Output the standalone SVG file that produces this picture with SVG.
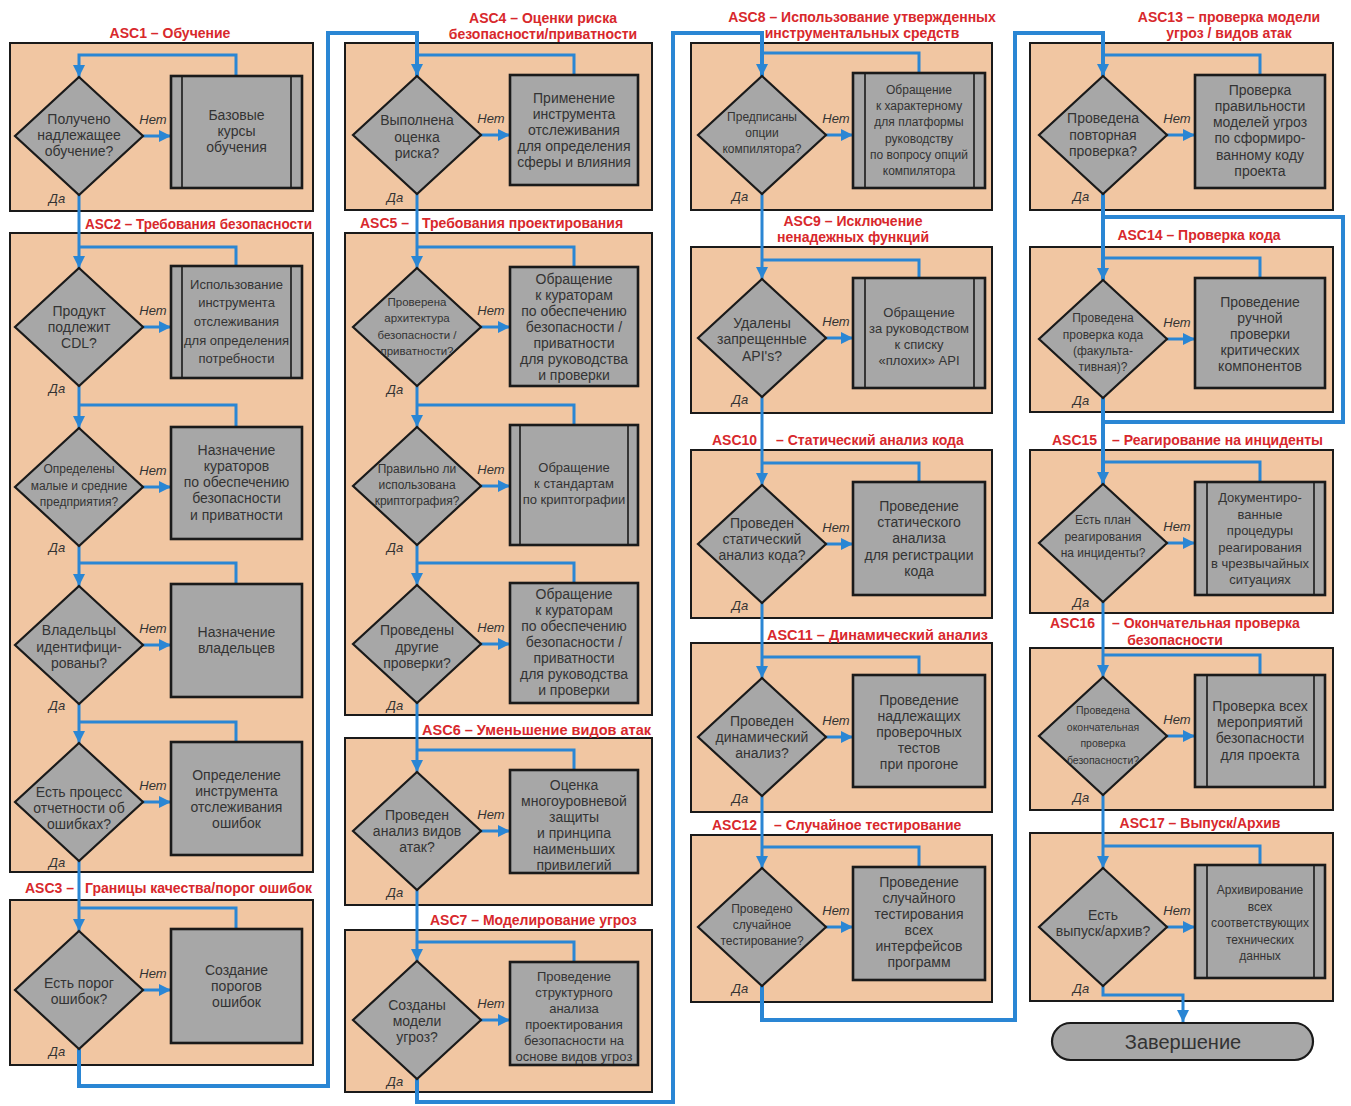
<svg xmlns="http://www.w3.org/2000/svg" width="1351" height="1106" viewBox="0 0 1351 1106">
<defs>
<style>
.bg{fill:#ffffff}
.panel{fill:#f1c6a2;stroke:#1a1a1a;stroke-width:2}
.dia{fill:#a7a7a7;stroke:#1a1a1a;stroke-width:2.2}
.box{fill:#a7a7a7;stroke:#1a1a1a;stroke-width:2.6}
.pl{stroke:#1a1a1a;stroke-width:1.6}
.t{font-family:"Liberation Sans",Arial,sans-serif;font-size:14px;fill:#333;text-anchor:middle}
.s13{font-size:13px}
.s12{font-size:12px}
.s11{font-size:11.5px}
.s10{font-size:10.5px}
.ttl{font-family:"Liberation Sans",Arial,sans-serif;font-weight:bold;font-size:14px;fill:#d8282c}
.yn{font-family:"Liberation Sans",Arial,sans-serif;font-style:italic;font-size:13px;fill:#333;text-anchor:middle}
.c{fill:none;stroke:#2a86d4;stroke-width:3}
.ct{fill:none;stroke:#2a86d4;stroke-width:4}
.term{fill:#a7a7a7;stroke:#1a1a1a;stroke-width:2.2}
</style>
<marker id="ar" markerUnits="userSpaceOnUse" markerWidth="14" markerHeight="14" refX="12" refY="6" orient="auto">
<path d="M0,0 L12,6 L0,12 z" fill="#2a86d4"/>
</marker>
</defs>
<rect class="bg" x="0" y="0" width="1351" height="1106"/>

<!-- panels -->
<g id="panels">
<g id="asc1"><rect class="panel" x="10" y="43" width="303" height="168"/><text class="ttl" x="170" y="38" text-anchor="middle">ASC1 – Обучение</text></g>
<g id="asc2"><rect class="panel" x="10" y="233" width="303" height="639"/><text class="ttl" x="85" y="229" textLength="227" lengthAdjust="spacingAndGlyphs">ASC2 – Требования безопасности</text></g>
<g id="asc3"><rect class="panel" x="10" y="900" width="303" height="165"/><text class="ttl" x="25" y="893">ASC3 –</text><text class="ttl" x="85" y="893">Границы качества/порог ошибок</text></g>
<g id="asc4"><rect class="panel" x="345" y="43" width="307" height="167"/><text class="ttl" x="543" y="23" text-anchor="middle">ASC4 – Оценки риска</text><text class="ttl" x="543" y="39" text-anchor="middle">безопасности/приватности</text></g>
<g id="asc5"><rect class="panel" x="345" y="233" width="307" height="482"/><text class="ttl" x="360" y="228">ASC5 –</text><text class="ttl" x="422" y="228">Требования проектирования</text></g>
<g id="asc6"><rect class="panel" x="345" y="738" width="307" height="167"/><text class="ttl" x="422" y="735" textLength="229" lengthAdjust="spacingAndGlyphs">ASC6 – Уменьшение видов атак</text></g>
<g id="asc7"><rect class="panel" x="345" y="930" width="307" height="162"/><text class="ttl" x="430" y="925">ASC7 – Моделирование угроз</text></g>
<g id="asc8"><rect class="panel" x="691" y="43" width="301" height="167"/><text class="ttl" x="862" y="22" text-anchor="middle">ASC8 – Использование утвержденных</text><text class="ttl" x="862" y="38" text-anchor="middle">инструментальных средств</text></g>
<g id="asc9"><rect class="panel" x="691" y="247" width="301" height="166"/><text class="ttl" x="853" y="226" text-anchor="middle">ASC9 – Исключение</text><text class="ttl" x="853" y="242" text-anchor="middle">ненадежных функций</text></g>
<g id="asc10"><rect class="panel" x="691" y="450" width="301" height="168"/><text class="ttl" x="712" y="445">ASC10</text><text class="ttl" x="776" y="445">– Статический анализ кода</text></g>
<g id="asc11"><rect class="panel" x="691" y="643" width="301" height="169"/><text class="ttl" x="767" y="640" textLength="221" lengthAdjust="spacingAndGlyphs">ASC11 – Динамический анализ</text></g>
<g id="asc12"><rect class="panel" x="691" y="835" width="301" height="167"/><text class="ttl" x="712" y="830">ASC12</text><text class="ttl" x="774" y="830">– Случайное тестирование</text></g>
<g id="asc13"><rect class="panel" x="1030" y="43" width="303" height="167"/><text class="ttl" x="1229" y="22" text-anchor="middle">ASC13 – проверка модели</text><text class="ttl" x="1229" y="38" text-anchor="middle">угроз / видов атак</text></g>
<g id="asc14"><rect class="panel" x="1030" y="247" width="303" height="165"/><text class="ttl" x="1199" y="240" text-anchor="middle">ASC14 – Проверка кода</text></g>
<g id="asc15"><rect class="panel" x="1030" y="450" width="303" height="163"/><text class="ttl" x="1052" y="445">ASC15</text><text class="ttl" x="1112" y="445">– Реагирование на инциденты</text></g>
<g id="asc16"><rect class="panel" x="1030" y="648" width="303" height="162"/><text class="ttl" x="1050" y="628">ASC16</text><text class="ttl" x="1112" y="628">– Окончательная проверка</text><text class="ttl" x="1175" y="645" text-anchor="middle">безопасности</text></g>
<g id="asc17"><rect class="panel" x="1030" y="833" width="303" height="168"/><text class="ttl" x="1200" y="828" text-anchor="middle">ASC17 – Выпуск/Архив</text></g>
</g>

<!-- connectors -->
<g id="connectors">
<!-- column 1 -->
<path class="c" d="M236,76 V55 H79 V77" marker-end="url(#ar)"/>
<path class="c" d="M143,136 H171" marker-end="url(#ar)"/>
<path class="c" d="M79,195 V268" marker-end="url(#ar)"/>
<path class="c" d="M236,266 V247 H79"/>
<path class="c" d="M143,327 H171" marker-end="url(#ar)"/>
<path class="c" d="M79,386 V428" marker-end="url(#ar)"/>
<path class="c" d="M236,427 V405 H79"/>
<path class="c" d="M143,487 H171" marker-end="url(#ar)"/>
<path class="c" d="M79,546 V586" marker-end="url(#ar)"/>
<path class="c" d="M236,584 V563 H79"/>
<path class="c" d="M143,645 H171" marker-end="url(#ar)"/>
<path class="c" d="M79,704 V743" marker-end="url(#ar)"/>
<path class="c" d="M236,742 V722 H79"/>
<path class="c" d="M143,802 H171" marker-end="url(#ar)"/>
<path class="c" d="M79,861 V931" marker-end="url(#ar)"/>
<path class="c" d="M236,929 V908 H79"/>
<path class="c" d="M143,990 H171" marker-end="url(#ar)"/>
<path class="ct" d="M79,1049 V1086 H328 V33 H417 V76" marker-end="url(#ar)"/>
<!-- column 2 -->
<path class="c" d="M574,75 V55 H417"/>
<path class="c" d="M481,135 H510" marker-end="url(#ar)"/>
<path class="c" d="M417,194 V268" marker-end="url(#ar)"/>
<path class="c" d="M574,267 V247 H417"/>
<path class="c" d="M481,327 H510" marker-end="url(#ar)"/>
<path class="c" d="M417,386 V427" marker-end="url(#ar)"/>
<path class="c" d="M574,425 V405 H417"/>
<path class="c" d="M481,486 H510" marker-end="url(#ar)"/>
<path class="c" d="M417,545 V585" marker-end="url(#ar)"/>
<path class="c" d="M574,583 V563 H417"/>
<path class="c" d="M481,644 H510" marker-end="url(#ar)"/>
<path class="c" d="M417,703 V772" marker-end="url(#ar)"/>
<path class="c" d="M574,770 V750 H417"/>
<path class="c" d="M481,831 H510" marker-end="url(#ar)"/>
<path class="c" d="M417,890 V961" marker-end="url(#ar)"/>
<path class="c" d="M574,962 V942 H417"/>
<path class="c" d="M481,1020 H510" marker-end="url(#ar)"/>
<path class="ct" d="M417,1079 V1102 H673 V33 H762 V76" marker-end="url(#ar)"/>
<!-- column 3 -->
<path class="c" d="M919,73 V53 H762"/>
<path class="c" d="M826,135 H853" marker-end="url(#ar)"/>
<path class="c" d="M762,194 V279" marker-end="url(#ar)"/>
<path class="c" d="M919,278 V260 H762"/>
<path class="c" d="M826,338 H853" marker-end="url(#ar)"/>
<path class="c" d="M762,397 V485" marker-end="url(#ar)"/>
<path class="c" d="M919,482 V463 H762"/>
<path class="c" d="M826,544 H853" marker-end="url(#ar)"/>
<path class="c" d="M762,603 V678" marker-end="url(#ar)"/>
<path class="c" d="M919,675 V657 H762"/>
<path class="c" d="M826,737 H853" marker-end="url(#ar)"/>
<path class="c" d="M762,796 V868" marker-end="url(#ar)"/>
<path class="c" d="M919,867 V847 H762"/>
<path class="c" d="M826,927 H853" marker-end="url(#ar)"/>
<path class="ct" d="M762,986 V1020 H1015 V33 H1103 V76" marker-end="url(#ar)"/>
<!-- column 4 -->
<path class="c" d="M1260,75 V55 H1103"/>
<path class="c" d="M1167,135 H1195" marker-end="url(#ar)"/>
<path class="ct" d="M1103,194 V217 H1343 V422 H1103"/>
<path class="ct" d="M1103,194 V280" marker-end="url(#ar)"/>
<path class="c" d="M1260,278 V258 H1103"/>
<path class="c" d="M1167,339 H1195" marker-end="url(#ar)"/>
<path class="ct" d="M1103,398 V484" marker-end="url(#ar)"/>
<path class="c" d="M1260,482 V462 H1103"/>
<path class="c" d="M1167,543 H1195" marker-end="url(#ar)"/>
<path class="c" d="M1103,602 V677" marker-end="url(#ar)"/>
<path class="c" d="M1260,675 V655 H1103"/>
<path class="c" d="M1167,736 H1195" marker-end="url(#ar)"/>
<path class="c" d="M1103,795 V868" marker-end="url(#ar)"/>
<path class="c" d="M1260,865 V846 H1103"/>
<path class="c" d="M1167,927 H1195" marker-end="url(#ar)"/>
<path class="c" d="M1103,986 V995 H1183 V1022" marker-end="url(#ar)"/>
</g>

<!-- nodes column 1 -->
<g id="n1">
<polygon class="dia" points="79,77 143,136 79,195 15,136"/>
<text class="t"><tspan x="79" y="124">Получено</tspan><tspan x="79" y="140">надлежащее</tspan><tspan x="79" y="156">обучение?</tspan></text>
<rect class="box" x="171" y="76" width="131" height="112"/><line class="pl" x1="182" y1="76" x2="182" y2="188"/><line class="pl" x1="291" y1="76" x2="291" y2="188"/>
<text class="t"><tspan x="236.5" y="120">Базовые</tspan><tspan x="236.5" y="136">курсы</tspan><tspan x="236.5" y="152">обучения</tspan></text>
<text class="yn" x="153" y="124">Нет</text><text class="yn" x="57" y="203">Да</text>
</g>
<g id="n2">
<polygon class="dia" points="79,268 143,327 79,386 15,327"/>
<text class="t"><tspan x="79" y="316">Продукт</tspan><tspan x="79" y="332">подлежит</tspan><tspan x="79" y="348">CDL?</tspan></text>
<rect class="box" x="171" y="266" width="131" height="112"/><line class="pl" x1="182" y1="266" x2="182" y2="378"/><line class="pl" x1="291" y1="266" x2="291" y2="378"/>
<text class="t s13"><tspan x="236.5" y="289">Использование</tspan><tspan x="236.5" y="307">инструмента</tspan><tspan x="236.5" y="326">отслеживания</tspan><tspan x="236.5" y="345">для определения</tspan><tspan x="236.5" y="363">потребности</tspan></text>
<text class="yn" x="153" y="315">Нет</text><text class="yn" x="57" y="393">Да</text>
</g>
<g id="n3">
<polygon class="dia" points="79,428 143,487 79,546 15,487"/>
<text class="t s12"><tspan x="79" y="473">Определены</tspan><tspan x="79" y="490">малые и средние</tspan><tspan x="79" y="506">предприятия?</tspan></text>
<rect class="box" x="171" y="427" width="131" height="112"/>
<text class="t"><tspan x="236.5" y="455">Назначение</tspan><tspan x="236.5" y="471">кураторов</tspan><tspan x="236.5" y="487">по обеспечению</tspan><tspan x="236.5" y="503">безопасности</tspan><tspan x="236.5" y="520">и приватности</tspan></text>
<text class="yn" x="153" y="475">Нет</text><text class="yn" x="57" y="552">Да</text>
</g>
<g id="n4">
<polygon class="dia" points="79,586 143,645 79,704 15,645"/>
<text class="t"><tspan x="79" y="635">Владельцы</tspan><tspan x="79" y="652">идентифици-</tspan><tspan x="79" y="668">рованы?</tspan></text>
<rect class="box" x="171" y="584" width="131" height="113"/>
<text class="t"><tspan x="236.5" y="637">Назначение</tspan><tspan x="236.5" y="653">владельцев</tspan></text>
<text class="yn" x="153" y="633">Нет</text><text class="yn" x="57" y="710">Да</text>
</g>
<g id="n5">
<polygon class="dia" points="79,743 143,802 79,861 15,802"/>
<text class="t"><tspan x="79" y="797">Есть процесс</tspan><tspan x="79" y="813">отчетности об</tspan><tspan x="79" y="829">ошибках?</tspan></text>
<rect class="box" x="171" y="742" width="131" height="113"/>
<text class="t"><tspan x="236.5" y="780">Определение</tspan><tspan x="236.5" y="796">инструмента</tspan><tspan x="236.5" y="812">отслеживания</tspan><tspan x="236.5" y="828">ошибок</tspan></text>
<text class="yn" x="153" y="790">Нет</text><text class="yn" x="57" y="867">Да</text>
</g>
<g id="n6">
<polygon class="dia" points="79,931 143,990 79,1049 15,990"/>
<text class="t"><tspan x="79" y="988">Есть порог</tspan><tspan x="79" y="1004">ошибок?</tspan></text>
<rect class="box" x="171" y="929" width="131" height="114"/>
<text class="t"><tspan x="236.5" y="975">Создание</tspan><tspan x="236.5" y="991">порогов</tspan><tspan x="236.5" y="1007">ошибок</tspan></text>
<text class="yn" x="153" y="978">Нет</text><text class="yn" x="57" y="1056">Да</text>
</g>

<!-- nodes column 2 -->
<g id="n7">
<polygon class="dia" points="417,76 481,135 417,194 353,135"/>
<text class="t"><tspan x="417" y="125">Выполнена</tspan><tspan x="417" y="142">оценка</tspan><tspan x="417" y="158">риска?</tspan></text>
<rect class="box" x="510" y="75" width="128" height="110"/>
<text class="t"><tspan x="574" y="103">Применение</tspan><tspan x="574" y="119">инструмента</tspan><tspan x="574" y="135">отслеживания</tspan><tspan x="574" y="151">для определения</tspan><tspan x="574" y="167">сферы и влияния</tspan></text>
<text class="yn" x="491" y="123">Нет</text><text class="yn" x="395" y="202">Да</text>
</g>
<g id="n8">
<polygon class="dia" points="417,268 481,327 417,386 353,327"/>
<text class="t s11"><tspan x="417" y="306">Проверена</tspan><tspan x="417" y="322">архитектура</tspan><tspan x="417" y="339">безопасности /</tspan><tspan x="417" y="355">приватности?</tspan></text>
<rect class="box" x="510" y="267" width="128" height="119"/>
<text class="t"><tspan x="574" y="284">Обращение</tspan><tspan x="574" y="300">к кураторам</tspan><tspan x="574" y="316">по обеспечению</tspan><tspan x="574" y="332">безопасности /</tspan><tspan x="574" y="348">приватности</tspan><tspan x="574" y="364">для руководства</tspan><tspan x="574" y="380">и проверки</tspan></text>
<text class="yn" x="491" y="315">Нет</text><text class="yn" x="395" y="394">Да</text>
</g>
<g id="n9">
<polygon class="dia" points="417,427 481,486 417,545 353,486"/>
<text class="t s12"><tspan x="417" y="473">Правильно ли</tspan><tspan x="417" y="489">использована</tspan><tspan x="417" y="505">криптография?</tspan></text>
<rect class="box" x="510" y="425" width="128" height="120"/><line class="pl" x1="520" y1="425" x2="520" y2="545"/><line class="pl" x1="628" y1="425" x2="628" y2="545"/>
<text class="t s13"><tspan x="574" y="472">Обращение</tspan><tspan x="574" y="488">к стандартам</tspan><tspan x="574" y="504">по криптографии</tspan></text>
<text class="yn" x="491" y="474">Нет</text><text class="yn" x="395" y="552">Да</text>
</g>
<g id="n10">
<polygon class="dia" points="417,585 481,644 417,703 353,644"/>
<text class="t"><tspan x="417" y="635">Проведены</tspan><tspan x="417" y="652">другие</tspan><tspan x="417" y="668">проверки?</tspan></text>
<rect class="box" x="510" y="583" width="128" height="120"/>
<text class="t"><tspan x="574" y="599">Обращение</tspan><tspan x="574" y="615">к кураторам</tspan><tspan x="574" y="631">по обеспечению</tspan><tspan x="574" y="647">безопасности /</tspan><tspan x="574" y="663">приватности</tspan><tspan x="574" y="679">для руководства</tspan><tspan x="574" y="695">и проверки</tspan></text>
<text class="yn" x="491" y="632">Нет</text><text class="yn" x="395" y="710">Да</text>
</g>
<g id="n11">
<polygon class="dia" points="417,772 481,831 417,890 353,831"/>
<text class="t"><tspan x="417" y="820">Проведен</tspan><tspan x="417" y="836">анализ видов</tspan><tspan x="417" y="852">атак?</tspan></text>
<rect class="box" x="510" y="770" width="128" height="103"/>
<text class="t"><tspan x="574" y="790">Оценка</tspan><tspan x="574" y="806">многоуровневой</tspan><tspan x="574" y="822">защиты</tspan><tspan x="574" y="838">и принципа</tspan><tspan x="574" y="854">наименьших</tspan><tspan x="574" y="870">привилегий</tspan></text>
<text class="yn" x="491" y="819">Нет</text><text class="yn" x="395" y="897">Да</text>
</g>
<g id="n12">
<polygon class="dia" points="417,961 481,1020 417,1079 353,1020"/>
<text class="t"><tspan x="417" y="1010">Созданы</tspan><tspan x="417" y="1026">модели</tspan><tspan x="417" y="1042">угроз?</tspan></text>
<rect class="box" x="510" y="962" width="128" height="103"/>
<text class="t s13"><tspan x="574" y="981">Проведение</tspan><tspan x="574" y="997">структурного</tspan><tspan x="574" y="1013">анализа</tspan><tspan x="574" y="1029">проектирования</tspan><tspan x="574" y="1045">безопасности на</tspan><tspan x="574" y="1061">основе видов угроз</tspan></text>
<text class="yn" x="491" y="1008">Нет</text><text class="yn" x="395" y="1086">Да</text>
</g>

<!-- nodes column 3 -->
<g id="n13">
<polygon class="dia" points="762,76 826,135 762,194 698,135"/>
<text class="t s12"><tspan x="762" y="121">Предписаны</tspan><tspan x="762" y="137">опции</tspan><tspan x="762" y="153">компилятора?</tspan></text>
<rect class="box" x="853" y="73" width="132" height="115"/><line class="pl" x1="865" y1="73" x2="865" y2="188"/><line class="pl" x1="974" y1="73" x2="974" y2="188"/>
<text class="t s12"><tspan x="919" y="94">Обращение</tspan><tspan x="919" y="110">к характерному</tspan><tspan x="919" y="126">для платформы</tspan><tspan x="919" y="143">руководству</tspan><tspan x="919" y="159">по вопросу опций</tspan><tspan x="919" y="175">компилятора</tspan></text>
<text class="yn" x="836" y="123">Нет</text><text class="yn" x="740" y="201">Да</text>
</g>
<g id="n14">
<polygon class="dia" points="762,279 826,338 762,397 698,338"/>
<text class="t"><tspan x="762" y="328">Удалены</tspan><tspan x="762" y="344">запрещенные</tspan><tspan x="762" y="361">API's?</tspan></text>
<rect class="box" x="853" y="278" width="132" height="110"/><line class="pl" x1="865" y1="278" x2="865" y2="388"/><line class="pl" x1="974" y1="278" x2="974" y2="388"/>
<text class="t s13"><tspan x="919" y="317">Обращение</tspan><tspan x="919" y="333">за руководством</tspan><tspan x="919" y="349">к списку</tspan><tspan x="919" y="365">«плохих» API</tspan></text>
<text class="yn" x="836" y="326">Нет</text><text class="yn" x="740" y="404">Да</text>
</g>
<g id="n15">
<polygon class="dia" points="762,485 826,544 762,603 698,544"/>
<text class="t"><tspan x="762" y="528">Проведен</tspan><tspan x="762" y="544">статический</tspan><tspan x="762" y="560">анализ кода?</tspan></text>
<rect class="box" x="853" y="482" width="132" height="113"/>
<text class="t"><tspan x="919" y="511">Проведение</tspan><tspan x="919" y="527">статического</tspan><tspan x="919" y="543">анализа</tspan><tspan x="919" y="560">для регистрации</tspan><tspan x="919" y="576">кода</tspan></text>
<text class="yn" x="836" y="532">Нет</text><text class="yn" x="740" y="610">Да</text>
</g>
<g id="n16">
<polygon class="dia" points="762,678 826,737 762,796 698,737"/>
<text class="t"><tspan x="762" y="726">Проведен</tspan><tspan x="762" y="742">динамический</tspan><tspan x="762" y="758">анализ?</tspan></text>
<rect class="box" x="853" y="675" width="132" height="112"/>
<text class="t"><tspan x="919" y="705">Проведение</tspan><tspan x="919" y="721">надлежащих</tspan><tspan x="919" y="737">проверочных</tspan><tspan x="919" y="753">тестов</tspan><tspan x="919" y="769">при прогоне</tspan></text>
<text class="yn" x="836" y="725">Нет</text><text class="yn" x="740" y="803">Да</text>
</g>
<g id="n17">
<polygon class="dia" points="762,868 826,927 762,986 698,927"/>
<text class="t s12"><tspan x="762" y="913">Проведено</tspan><tspan x="762" y="929">случайное</tspan><tspan x="762" y="945">тестирование?</tspan></text>
<rect class="box" x="853" y="867" width="132" height="113"/>
<text class="t"><tspan x="919" y="887">Проведение</tspan><tspan x="919" y="903">случайного</tspan><tspan x="919" y="919">тестирования</tspan><tspan x="919" y="935">всех</tspan><tspan x="919" y="951">интерфейсов</tspan><tspan x="919" y="967">программ</tspan></text>
<text class="yn" x="836" y="915">Нет</text><text class="yn" x="740" y="993">Да</text>
</g>

<!-- nodes column 4 -->
<g id="n18">
<polygon class="dia" points="1103,76 1167,135 1103,194 1039,135"/>
<text class="t"><tspan x="1103" y="123">Проведена</tspan><tspan x="1103" y="140">повторная</tspan><tspan x="1103" y="156">проверка?</tspan></text>
<rect class="box" x="1195" y="75" width="130" height="113"/>
<text class="t"><tspan x="1260" y="95">Проверка</tspan><tspan x="1260" y="111">правильности</tspan><tspan x="1260" y="127">моделей угроз</tspan><tspan x="1260" y="143">по сформиро-</tspan><tspan x="1260" y="160">ванному коду</tspan><tspan x="1260" y="176">проекта</tspan></text>
<text class="yn" x="1177" y="123">Нет</text><text class="yn" x="1081" y="201">Да</text>
</g>
<g id="n19">
<polygon class="dia" points="1103,280 1167,339 1103,398 1039,339"/>
<text class="t s12"><tspan x="1103" y="322">Проведена</tspan><tspan x="1103" y="339">проверка кода</tspan><tspan x="1103" y="355">(факульта-</tspan><tspan x="1103" y="371">тивная)?</tspan></text>
<rect class="box" x="1195" y="278" width="130" height="110"/>
<text class="t"><tspan x="1260" y="307">Проведение</tspan><tspan x="1260" y="323">ручной</tspan><tspan x="1260" y="339">проверки</tspan><tspan x="1260" y="355">критических</tspan><tspan x="1260" y="371">компонентов</tspan></text>
<text class="yn" x="1177" y="327">Нет</text><text class="yn" x="1081" y="405">Да</text>
</g>
<g id="n20">
<polygon class="dia" points="1103,484 1167,543 1103,602 1039,543"/>
<text class="t s12"><tspan x="1103" y="524">Есть план</tspan><tspan x="1103" y="541">реагирования</tspan><tspan x="1103" y="557">на инциденты?</tspan></text>
<rect class="box" x="1195" y="482" width="130" height="113"/><line class="pl" x1="1207" y1="482" x2="1207" y2="595"/><line class="pl" x1="1314" y1="482" x2="1314" y2="595"/>
<text class="t s13"><tspan x="1260" y="502">Документиро-</tspan><tspan x="1260" y="519">ванные</tspan><tspan x="1260" y="535">процедуры</tspan><tspan x="1260" y="552">реагирования</tspan><tspan x="1260" y="568">в чрезвычайных</tspan><tspan x="1260" y="584">ситуациях</tspan></text>
<text class="yn" x="1177" y="531">Нет</text><text class="yn" x="1081" y="607">Да</text>
</g>
<g id="n21">
<polygon class="dia" points="1103,677 1167,736 1103,795 1039,736"/>
<text class="t s10"><tspan x="1103" y="714">Проведена</tspan><tspan x="1103" y="731">окончательная</tspan><tspan x="1103" y="747">проверка</tspan><tspan x="1103" y="764">безопасности?</tspan></text>
<rect class="box" x="1195" y="675" width="130" height="112"/><line class="pl" x1="1207" y1="675" x2="1207" y2="787"/><line class="pl" x1="1314" y1="675" x2="1314" y2="787"/>
<text class="t"><tspan x="1260" y="711">Проверка всех</tspan><tspan x="1260" y="727">мероприятий</tspan><tspan x="1260" y="743">безопасности</tspan><tspan x="1260" y="760">для проекта</tspan></text>
<text class="yn" x="1177" y="724">Нет</text><text class="yn" x="1081" y="802">Да</text>
</g>
<g id="n22">
<polygon class="dia" points="1103,868 1167,927 1103,986 1039,927"/>
<text class="t"><tspan x="1103" y="920">Есть</tspan><tspan x="1103" y="936">выпуск/архив?</tspan></text>
<rect class="box" x="1195" y="865" width="130" height="113"/><line class="pl" x1="1207" y1="865" x2="1207" y2="978"/><line class="pl" x1="1314" y1="865" x2="1314" y2="978"/>
<text class="t s12"><tspan x="1260" y="894">Архивирование</tspan><tspan x="1260" y="911">всех</tspan><tspan x="1260" y="927">соответствующих</tspan><tspan x="1260" y="944">технических</tspan><tspan x="1260" y="960">данных</tspan></text>
<text class="yn" x="1177" y="915">Нет</text><text class="yn" x="1081" y="993">Да</text>
</g>
<g id="end">
<rect class="term" x="1052" y="1023" width="261" height="37" rx="18.5"/>
<text class="t" x="1183" y="1049" style="font-size:20px">Завершение</text>
</g>
</svg>
